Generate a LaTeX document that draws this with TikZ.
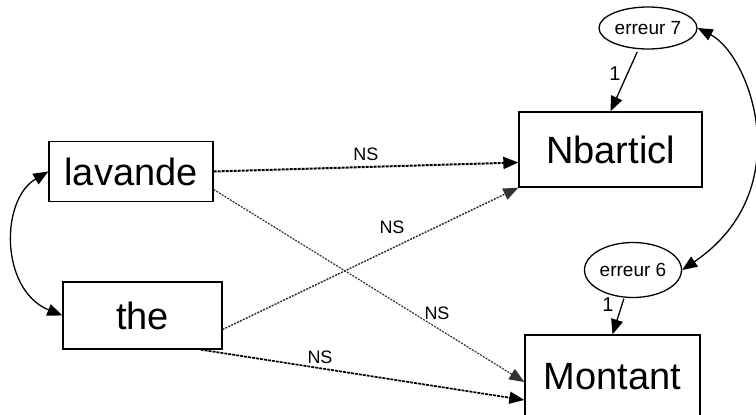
\documentclass[tikz,border=0pt]{standalone}
\usepackage{fontspec}
\setmainfont{Liberation Sans}
\usetikzlibrary{arrows.meta,shapes.geometric,calc}
\begin{document}
\begin{tikzpicture}[x=1pt,y=-1pt,
  box/.style={draw,line width=1.3pt,inner sep=0pt,font=\fontsize{38}{40}\selectfont},
  err/.style={draw,ellipse,line width=1.3pt,inner sep=0pt,font=\fontsize{19}{21}\selectfont},
  lbl/.style={inner sep=0pt,font=\fontsize{18}{20}\selectfont},
  one/.style={inner sep=0pt,font=\fontsize{20}{22}\selectfont},
  tip/.style={-{Triangle[length=15pt,width=12pt]}},
  heavy/.style={tip,line width=2pt,dash pattern=on 3pt off 1pt},
  light/.style={tip,line width=1.2pt,black!80,dash pattern=on 2pt off 1.2pt},
  solidarr/.style={tip,line width=1.3pt},
  cov/.style={{Triangle[length=15pt,width=12pt]}-{Triangle[length=15pt,width=12pt]},line width=1.3pt}]
\useasboundingbox (0,0) rectangle (756,415);
\node[box,minimum width=164pt,minimum height=60pt] (lav) at (131,171.5) {lavande};
\node[box,minimum width=159pt,minimum height=67pt] (the) at (142.5,315.5) {the};
\node[box,minimum width=183pt,minimum height=75pt] (nb) at (610.5,149.5) {Nbarticl};
\node[box,minimum width=175pt,minimum height=84pt] (mo) at (612.5,377) {Montant};
\node[err,minimum width=98pt,minimum height=42pt] (e7) at (648,28) {erreur 7};
\node[err,minimum width=97pt,minimum height=55pt] (e6) at (633,270) {erreur 6};
% error paths
\draw[solidarr,shorten <=3pt] (e7) -- (nb.north);
\draw[solidarr,shorten <=1pt] (e6) -- (mo.north);
\node[one] (one7) at (615,74) {1};
\node[one] (one6) at (608,305) {1};
% covariances
\draw[cov] (lav.west) .. controls (0,200) and (0,290) .. (the.west);
\draw[cov] (e7.east) .. controls (750,55) and (800,190) .. (e6.east);
% regression paths
\draw[heavy] (lav.east) -- ($(nb.west)+(0,13)$);
\draw[light] ($(lav.east)+(0,18)$) -- ($(mo.west)+(0,5)$);
\draw[light,line width=1.5pt] ($(the.east)+(0,14)$) -- (nb.south west);
\draw[heavy,line width=1.7pt] ($(the.south east)+(-22,0)$) -- ($(mo.west)+(0,23)$);
\node[lbl] (ns1) at (366,154) {NS};
\node[lbl] (ns2) at (392,227) {NS};
\node[lbl] (ns3) at (437,313) {NS};
\node[lbl] (ns4) at (320,357) {NS};
\end{tikzpicture}
\end{document}
